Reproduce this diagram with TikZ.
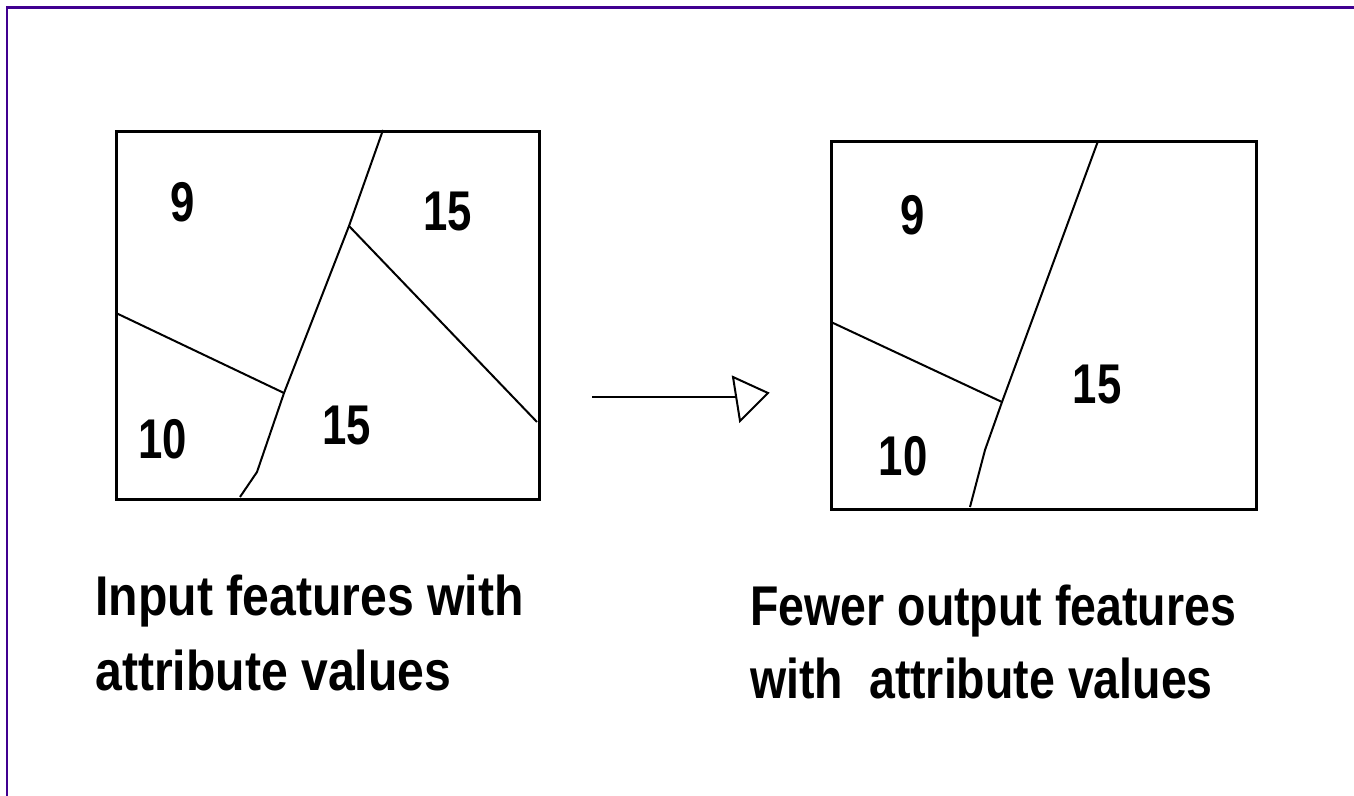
\documentclass[tikz,border=0pt]{standalone}
\usepackage{fontspec}
\newfontfamily\lblfont[FakeStretch=0.86]{Liberation Sans}
\newfontfamily\capfontb[FakeStretch=0.83]{Liberation Sans}
\newfontfamily\numfont[FakeStretch=0.78]{Liberation Sans}
\definecolor{frameviolet}{HTML}{400090}
\begin{document}
\begin{tikzpicture}[x=0.5pt,y=-0.5pt,
  mapbox/.style={draw=black,line width=1.5pt},
  split/.style={draw=black,line width=1pt},
  num/.style={font=\numfont\bfseries\fontsize{28}{30}\selectfont,inner sep=0pt},
  caption/.style={font=\lblfont\bfseries\fontsize{28}{30}\selectfont,inner sep=0pt,anchor=base west},
  captionb/.style={font=\capfontb\bfseries\fontsize{28}{30}\selectfont,inner sep=0pt,anchor=base west},
  frame/.style={draw=frameviolet,line width=1.3pt}]
\useasboundingbox (0,0) rectangle (1354,796);
% frame
\coordinate (fTL) at (7,7.5);
\coordinate (fTR) at (1354,7.5);
\coordinate (fBL) at (7,796);
\draw[frame] (fBL) -- (fTL) -- (fTR);
% left map
\node[mapbox,minimum width=211.5pt,minimum height=184pt,inner sep=0pt,anchor=north west] (lbox) at (115,130) {};
\coordinate (la) at (383,130);
\coordinate (lb) at (349,226);
\coordinate (lc) at (284,393);
\coordinate (ld) at (257,472);
\coordinate (le) at (240,497);
\coordinate (lf) at (116,313);
\coordinate (lg) at (537,422);
\draw[split] (la) -- (lb) -- (lc) -- (ld) -- (le);
\draw[split] (lf) -- (lc);
\draw[split] (lb) -- (lg);
\node[num] (l9) at (183,202) {9};
\node[num] (l15a) at (448,212) {15};
\node[num] (l10) at (163,439) {10};
\node[num] (l15b) at (347,426) {15};
% arrow
\coordinate (as) at (592,397);
\coordinate (ae) at (737,397);
\draw[line width=1pt] (as) -- (ae);
\coordinate (t1) at (733,377);
\coordinate (t2) at (768,393);
\coordinate (t3) at (740,421);
\draw[line width=1pt] (t1) -- (t2) -- (t3) -- cycle;
% right map
\node[mapbox,minimum width=212.5pt,minimum height=184pt,inner sep=0pt,anchor=north west] (rbox) at (830,140) {};
\coordinate (ra) at (1098,141);
\coordinate (rb) at (1002,402);
\coordinate (rc) at (985,450);
\coordinate (rd) at (970,507);
\coordinate (rf) at (831,322);
\draw[split] (ra) -- (rb) -- (rc) -- (rd);
\draw[split] (rf) -- (rb);
\node[num] (r9) at (913,215) {9};
\node[num] (r15) at (1097,385) {15};
\node[num] (r10) at (903,456) {10};
% captions
\node[caption] (cap1) at (95,615) {Input features with};
\node[caption] (cap2) at (95,690) {attribute values};
\node[captionb] (cap3) at (750,625) {Fewer output features};
\node[captionb] (cap4) at (750,698) {with\ \ attribute values};
\end{tikzpicture}
\end{document}
